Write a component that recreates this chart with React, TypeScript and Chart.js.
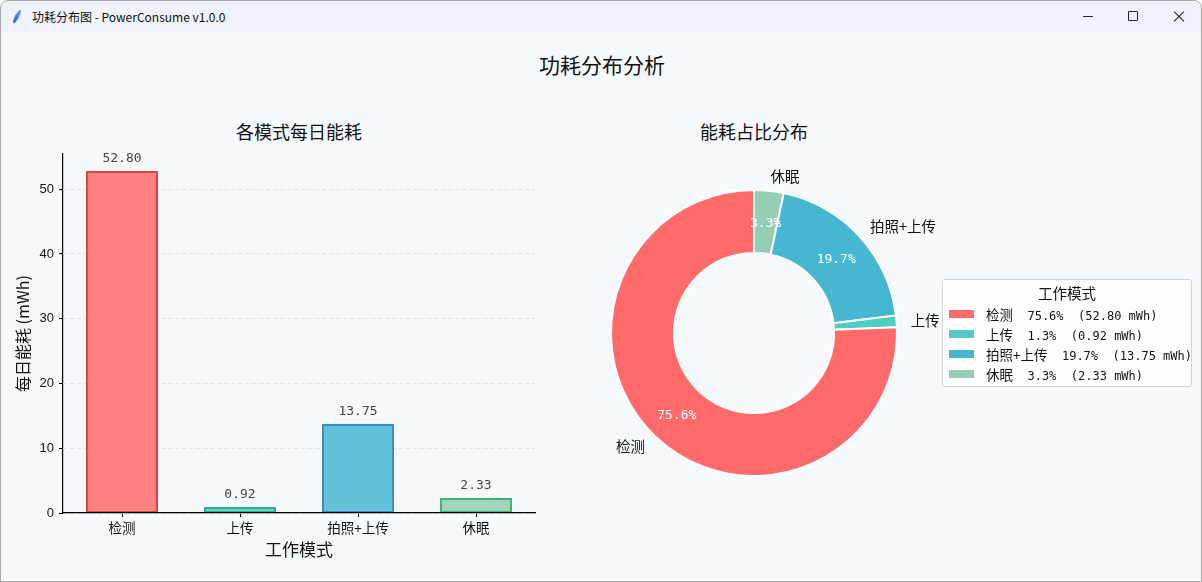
import { useEffect, useRef } from 'react';
import { Chart, registerables } from 'chart.js';

Chart.register(...registerables);

const modes = ['检测', '上传', '拍照+上传', '休眠'];
const dailyEnergy = [52.8, 0.92, 13.75, 2.33];
const pieColors = ['#FF6B6B', '#4ECDC4', '#45B7D1', '#96CEB4'];
const barFills = [
  'rgba(255,107,107,0.85)',
  'rgba(78,205,196,0.85)',
  'rgba(69,183,209,0.85)',
  'rgba(150,206,180,0.85)',
];
const barEdges = ['#D14B42', '#2BAF96', '#3A8CC4', '#3DB672'];
const yTicks = [0, 10, 20, 30, 40, 50];

const CJK = '"Noto Sans CJK SC", sans-serif';
const MONO = '"DejaVu Sans Mono", "Noto Sans CJK SC", monospace';

const total = dailyEnergy.reduce((a, b) => a + b, 0);
const percent = (v: number) => ((v / total) * 100).toFixed(1);

const barValueLabels = {
  id: 'barValueLabels',
  afterDatasetsDraw(chart: any) {
    const { ctx } = chart;
    const meta = chart.getDatasetMeta(0);
    ctx.save();
    ctx.font = '13px ' + MONO;
    ctx.fillStyle = '#444';
    ctx.textAlign = 'center';
    ctx.textBaseline = 'bottom';
    meta.data.forEach((bar: any, i: number) => {
      ctx.fillText(dailyEnergy[i].toFixed(2), bar.x, bar.y - 6);
    });
    ctx.restore();
  },
};

// matplotlib-style wedge labels: percent inside the ring (only if > 2%), name outside
const pieLabels = {
  id: 'pieLabels',
  afterDatasetsDraw(chart: any) {
    const { ctx } = chart;
    const meta = chart.getDatasetMeta(0);
    const values: number[] = chart.data.datasets[0].data;
    const names: string[] = chart.data.labels;
    ctx.save();
    meta.data.forEach((arc: any, i: number) => {
      const { x, y, startAngle, endAngle, innerRadius, outerRadius } = arc.getProps(
        ['x', 'y', 'startAngle', 'endAngle', 'innerRadius', 'outerRadius'],
        true
      );
      const mid = (startAngle + endAngle) / 2;
      const rp = (innerRadius + outerRadius) / 2;
      if ((values[i] / total) * 100 > 2) {
        ctx.font = '13px ' + MONO;
        ctx.fillStyle = '#ffffff';
        ctx.textAlign = 'center';
        ctx.textBaseline = 'middle';
        ctx.fillText(percent(values[i]) + '%', x + Math.cos(mid) * rp, y + Math.sin(mid) * rp + 2);
      }

      const rl = outerRadius * 1.1;
      const lx = x + Math.cos(mid) * rl;
      ctx.font = '14.5px ' + CJK;
      ctx.fillStyle = '#111';
      ctx.textAlign = Math.cos(mid) >= 0 ? 'left' : 'right';
      ctx.textBaseline = 'middle';
      ctx.fillText(names[i], lx, y + Math.sin(mid) * rl);
    });
    ctx.restore();
  },
};

function BarPanel() {
  const canvasRef = useRef<HTMLCanvasElement | null>(null);

  useEffect(() => {
    if (!canvasRef.current) return;
    const chart = new Chart(canvasRef.current, {
      type: 'bar',
      data: {
        labels: modes,
        datasets: [
          {
            data: dailyEnergy,
            backgroundColor: barFills,
            borderColor: barEdges,
            borderWidth: 2,
            borderSkipped: false,
            barPercentage: 0.61,
            categoryPercentage: 1,
          },
        ],
      },
      options: {
        animation: false,
        responsive: false,
        layout: { padding: { left: 0, top: 122, right: 46, bottom: 0 } },
        plugins: { legend: { display: false }, tooltip: { enabled: false } },
        scales: {
          x: {
            grid: {
              offset: false,
              drawOnChartArea: false,
              drawTicks: true,
              tickLength: 4,
              tickColor: '#000',
            },
            border: { color: '#000', width: 1.2, z: 1 },
            ticks: { color: '#111', font: { family: CJK, size: 13.5 }, padding: 3 },
            title: {
              display: true,
              text: '工作模式',
              color: '#111',
              font: { family: CJK, size: 17 },
              padding: { top: 0, bottom: 23 },
            },
            afterFit: (s: any) => {
              s.height = 70;
            },
          },
          y: {
            min: 0,
            max: 55.44,
            afterBuildTicks: (s: any) => {
              s.ticks = yTicks.map((v) => ({ value: v }));
            },
            grid: { color: '#dde3ea', lineWidth: 1, tickLength: 4, tickColor: '#000', tickBorderDash: [] },
            border: { color: '#000', width: 1.2, dash: [4, 3], z: 1 },
            ticks: {
              color: '#111',
              font: { family: '"Liberation Sans", sans-serif', size: 13 },
              padding: 5,
              includeBounds: false,
            },
            title: {
              display: true,
              text: '每日能耗 (mWh)',
              color: '#111',
              font: { family: CJK, size: 16 },
              padding: { top: 12, bottom: 0 },
            },
            afterFit: (s: any) => {
              s.width = 62;
            },
          },
        },
      },
      plugins: [barValueLabels],
    } as any);
    return () => chart.destroy();
  }, []);

  return (
    <canvas
      ref={canvasRef}
      width={580}
      height={551}
      style={{ position: 'absolute', left: 0, top: 31, width: 580, height: 551 }}
    />
  );
}

function DonutPanel() {
  const canvasRef = useRef<HTMLCanvasElement | null>(null);

  useEffect(() => {
    if (!canvasRef.current) return;
    // matplotlib draws counter-clockwise from the top; Chart.js goes clockwise, so reverse
    const order = modes.map((_, i) => modes.length - 1 - i);
    const chart = new Chart(canvasRef.current, {
      type: 'doughnut',
      data: {
        labels: order.map((i) => modes[i]),
        datasets: [
          {
            data: order.map((i) => dailyEnergy[i]),
            backgroundColor: order.map((i) => pieColors[i]),
            borderColor: '#ffffff',
            borderWidth: 2,
          },
        ],
      },
      options: {
        animation: false,
        responsive: false,
        cutout: '56%',
        layout: { padding: { left: 29, right: 305, top: 157, bottom: 106 } },
        plugins: { legend: { display: false }, tooltip: { enabled: false } },
      },
      plugins: [pieLabels],
    } as any);
    return () => chart.destroy();
  }, []);

  return (
    <canvas
      ref={canvasRef}
      width={622}
      height={551}
      style={{ position: 'absolute', left: 580, top: 31, width: 622, height: 551 }}
    />
  );
}

function Legend() {
  return (
    <div
      style={{
        position: 'absolute',
        left: 941,
        top: 278,
        width: 250,
        height: 108,
        boxSizing: 'border-box',
        border: '1px solid #d3d3d3',
        borderRadius: 3,
        background: 'rgba(255,255,255,0.85)',
      }}
    >
      <div
        style={{
          position: 'absolute',
          left: 0,
          right: 0,
          top: 3,
          textAlign: 'center',
          font: '14.5px ' + CJK,
          lineHeight: '20px',
          color: '#111',
        }}
      >
        工作模式
      </div>
      {modes.map((m, i) => (
        <div key={m} style={{ position: 'absolute', left: 0, top: 24 + i * 20, height: 20, width: 260 }}>
          <div
            style={{
              position: 'absolute',
              left: 6,
              top: 6,
              width: 25,
              height: 8,
              background: pieColors[i],
            }}
          />
          <div
            style={{
              position: 'absolute',
              left: 43,
              top: 0,
              whiteSpace: 'pre',
              font: '12px ' + MONO,
              lineHeight: '20px',
              color: '#111',
            }}
          >
            <span style={{ fontFamily: CJK, fontSize: 13.5 }}>{m}</span>
            {`  ${percent(dailyEnergy[i])}%  (${dailyEnergy[i].toFixed(2)} mWh)`}
          </div>
        </div>
      ))}
    </div>
  );
}

function TitleBar() {
  return (
    <div
      style={{
        position: 'absolute',
        left: 0,
        top: 0,
        width: '100%',
        height: 31,
        background: '#eef3f9',
        borderTopLeftRadius: 8,
        borderTopRightRadius: 8,
      }}
    >
      <div
        style={{
          position: 'absolute',
          left: 14,
          top: 8,
          width: 4,
          height: 15,
          borderRadius: '50%',
          background: 'linear-gradient(#6aa8e8, #2a5fb0)',
          transform: 'rotate(28deg)',
        }}
      />
      <div
        style={{
          position: 'absolute',
          left: 31,
          top: 7,
          font: '12px ' + CJK,
          lineHeight: '17px',
          color: '#111',
        }}
      >
        功耗分布图 - PowerConsume v1.0.0
      </div>
      <div style={{ position: 'absolute', left: 1082, top: 15, width: 10, height: 1, background: '#222' }} />
      <div
        style={{
          position: 'absolute',
          left: 1127,
          top: 10,
          width: 10,
          height: 10,
          boxSizing: 'border-box',
          border: '1px solid #222',
          borderRadius: 1,
        }}
      />
      <div
        style={{
          position: 'absolute',
          left: 1171,
          top: 15,
          width: 14,
          height: 1,
          background: '#222',
          transform: 'rotate(45deg)',
        }}
      />
      <div
        style={{
          position: 'absolute',
          left: 1171,
          top: 15,
          width: 14,
          height: 1,
          background: '#222',
          transform: 'rotate(-45deg)',
        }}
      />
    </div>
  );
}

export default function App() {
  const titleStyle = (cx: number, cy: number, size: number) => ({
    position: 'absolute' as const,
    left: cx - 200,
    top: cy - 15,
    width: 400,
    height: 30,
    lineHeight: '30px',
    textAlign: 'center' as const,
    font: `${size}px ${CJK}`,
    color: '#111',
  });

  return (
    <div
      style={{
        position: 'absolute',
        left: 0,
        top: 0,
        width: 1202,
        height: 582,
        boxSizing: 'border-box',
        background: '#f6f9fc',
        border: '1px solid #a9a9a9',
        borderTopLeftRadius: 8,
        borderTopRightRadius: 8,
        overflow: 'hidden',
      }}
    >
      <TitleBar />
      <div style={titleStyle(601, 63, 21)}>功耗分布分析</div>
      <div style={titleStyle(298, 132, 18)}>各模式每日能耗</div>
      <div style={titleStyle(753, 132, 18)}>能耗占比分布</div>
      <BarPanel />
      <DonutPanel />
      <Legend />
    </div>
  );
}
